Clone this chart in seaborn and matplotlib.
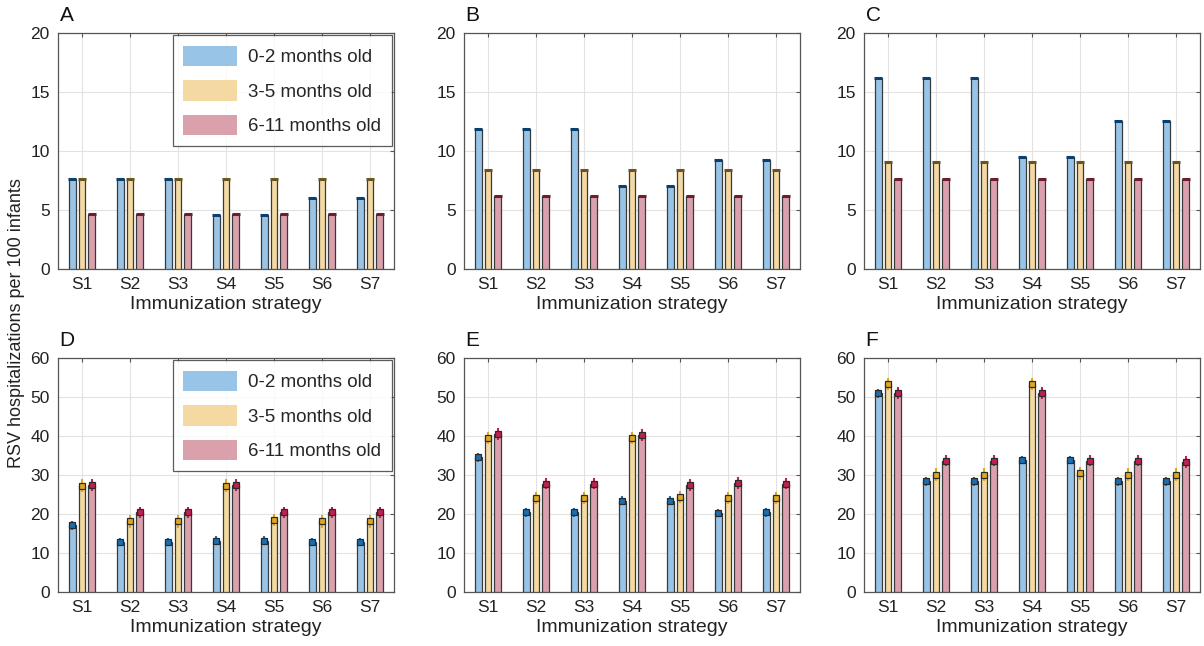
import matplotlib

matplotlib.use("Agg")
import matplotlib.pyplot as plt
import numpy as np
import pandas as pd
import seaborn as sns

strategies = ["S1", "S2", "S3", "S4", "S5", "S6", "S7"]
ages = ["0-2 months old", "3-5 months old", "6-11 months old"]
panel_letters = ["A", "B", "C", "D", "E", "F"]

# panel values, one list per age group
a_young = [7.6, 7.6, 7.6, 4.6, 4.6, 6.0, 6.0]
a_mid = [7.6, 7.6, 7.6, 7.6, 7.6, 7.6, 7.6]
a_old = [4.7, 4.7, 4.7, 4.7, 4.7, 4.7, 4.7]

b_young = [11.9, 11.9, 11.9, 7.0, 7.0, 9.2, 9.2]
b_mid = [8.4, 8.4, 8.4, 8.4, 8.4, 8.4, 8.4]
b_old = [6.2, 6.2, 6.2, 6.2, 6.2, 6.2, 6.2]

c_young = [16.2, 16.2, 16.2, 9.5, 9.5, 12.5, 12.5]
c_mid = [9.1, 9.1, 9.1, 9.1, 9.1, 9.1, 9.1]
c_old = [7.6, 7.6, 7.6, 7.6, 7.6, 7.6, 7.6]

d_young = [17.1, 12.8, 12.8, 13.2, 13.2, 12.8, 12.8]
d_mid = [27.3, 18.1, 18.1, 27.3, 18.5, 18.1, 18.1]
d_old = [27.5, 20.4, 20.4, 27.5, 20.4, 20.4, 20.4]

e_young = [34.5, 20.4, 20.4, 23.4, 23.4, 20.3, 20.4]
e_mid = [39.5, 24.1, 24.1, 39.5, 24.4, 24.1, 24.1]
e_old = [40.5, 27.8, 27.8, 40.3, 27.5, 28.0, 27.8]

f_young = [50.9, 28.4, 28.4, 33.8, 33.8, 28.4, 28.4]
f_mid = [53.4, 30.1, 30.1, 53.4, 30.4, 30.1, 30.1]
f_old = [51.0, 33.7, 33.7, 51.0, 33.7, 33.7, 33.4]

# approximate error half-widths
top_err = [0.06, 0.03, 0.03]
bottom_err = [1.1, 1.6, 1.5]

panels = [
    (a_young, a_mid, a_old),
    (b_young, b_mid, b_old),
    (c_young, c_mid, c_old),
    (d_young, d_mid, d_old),
    (e_young, e_mid, e_old),
    (f_young, f_mid, f_old),
]

bar_colors = ["#98c5e7", "#f4daa2", "#daa1ad"]
dark_colors = ["#1a6fb0", "#e0a820", "#c02050"]
cap_colors = ["#0a3f6e", "#6e5420", "#6a1e30"]

sns.set_theme(style="white")
plt.rcParams["font.family"] = ["Liberation Sans", "DejaVu Sans"]

fig = plt.figure(figsize=(12.04, 6.46), dpi=100)
lefts = [58, 464, 864]
width_px = 336
rows = [(33, 269), (358, 592)]

for i, (young, mid, old) in enumerate(panels):
    r, c = divmod(i, 3)
    top, bot = rows[r]
    ax = fig.add_axes([lefts[c] / 1204, 1 - bot / 646, width_px / 1204, (bot - top) / 646])

    df = pd.DataFrame({
        "strategy": strategies * 3,
        "age": [ages[0]] * 7 + [ages[1]] * 7 + [ages[2]] * 7,
        "value": young + mid + old,
    })
    sns.barplot(data=df, x="strategy", y="value", hue="age", hue_order=ages,
                palette=bar_colors, saturation=1, width=0.6, gap=0.3, errorbar=None,
                edgecolor="#3a3a3a", linewidth=0.9, ax=ax, zorder=3)

    errs = top_err if r == 0 else bottom_err
    bar_conts = list(ax.containers)
    for k, cont in enumerate(bar_conts):
        xs = [p.get_x() + p.get_width() / 2 for p in cont.patches]
        ys = [p.get_height() for p in cont.patches]
        if r == 0:
            ax.errorbar(xs, ys, yerr=errs[k], fmt="_", ms=6, mew=2.2,
                        color=cap_colors[k], elinewidth=1.0, capsize=0, zorder=4)
        else:
            ax.errorbar(xs, ys, yerr=errs[k], fmt="s", ms=4, color=dark_colors[k],
                        mfc=dark_colors[k], mec="#2a2a2a", mew=0.9, elinewidth=1.5,
                        capsize=0, zorder=4)

    ax.set_xlim(-0.5, 6.5)
    if r == 0:
        ax.set_ylim(0, 20)
        ax.set_yticks([0, 5, 10, 15, 20])
    else:
        ax.set_ylim(0, 60)
        ax.set_yticks([0, 10, 20, 30, 40, 50, 60])

    ax.grid(True, color="#e2e2e2", linewidth=0.8, zorder=0)
    ax.set_axisbelow(True)
    for sp in ax.spines.values():
        sp.set_color("#555555")
        sp.set_linewidth(0.9)
    ax.tick_params(direction="in", length=3, width=0.8, color="#555555",
                   top=True, right=True, labelsize=12.5, labelcolor="#222222", pad=6)
    ax.set_xlabel("Immunization strategy", fontsize=14, color="#222222", labelpad=3)
    ax.set_ylabel("")
    ax.text(0.005, 1.035, panel_letters[i], transform=ax.transAxes, fontsize=15,
            color="#111111", va="bottom", ha="left")

    if c == 0:
        leg = ax.legend(loc="upper right", fontsize=13.5, frameon=True, fancybox=False,
                        handlelength=2.9, handleheight=1.3, borderpad=0.55,
                        labelspacing=0.75, handletextpad=0.6, borderaxespad=0.12)
        leg.get_frame().set_edgecolor("#333333")
        leg.get_frame().set_linewidth(0.9)
        for h in leg.legend_handles:
            h.set_edgecolor("none")
    else:
        ax.get_legend().remove()

fig.text(0.014, 0.5, "RSV hospitalizations per 100 infants", rotation=90,
         va="center", ha="center", fontsize=13, color="#222222")

fig.savefig("out.png", dpi=100)
